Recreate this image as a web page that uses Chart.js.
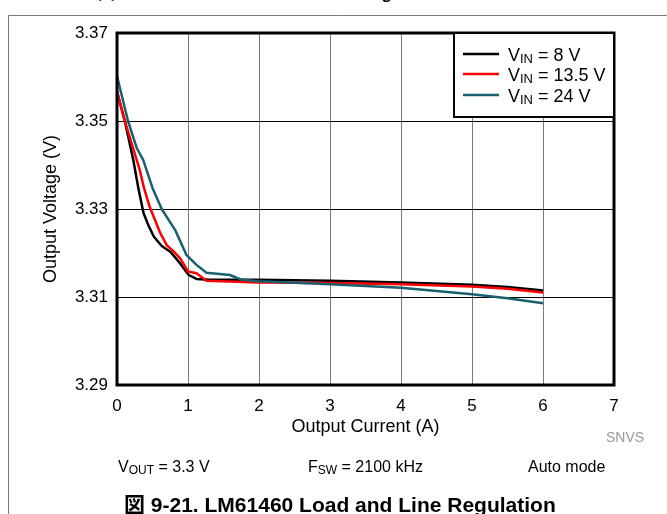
<!DOCTYPE html>
<html>
<head>
<meta charset="utf-8">
<script src="https://cdn.jsdelivr.net/npm/chart.js@4.4.1/dist/chart.umd.min.js"></script>
<style>
  body { margin: 0; background: #fff; }
  canvas { display: block; }
</style>
</head>
<body>
<canvas id="regulation" width="667" height="514"></canvas>
<script>
const FONT = "'Liberation Sans', Arial, 'Noto Sans CJK JP', sans-serif";

// Output current (A) / output voltage (V)
const vin8Current = [0, 0.11, 0.23, 0.3, 0.375, 0.445, 0.52, 0.63, 0.75, 0.87, 1.01, 1.12, 1.3, 2, 3, 4, 5, 5.5, 6];
const vin8Voltage = [3.3567, 3.35, 3.3411, 3.3348, 3.329, 3.3262, 3.3237, 3.3216, 3.3203, 3.318, 3.315, 3.3141, 3.3139, 3.3139, 3.3137, 3.3133, 3.3128, 3.3123, 3.3115];

const vin13Current = [0, 0.11, 0.32, 0.38, 0.46, 0.61, 0.7, 0.8, 0.89, 1.0, 1.12, 1.26, 2, 3, 4, 5, 5.5, 6];
const vin13Voltage = [3.3567, 3.35, 3.3389, 3.3348, 3.3305, 3.3245, 3.3218, 3.3203, 3.3188, 3.3158, 3.3154, 3.3137, 3.3133, 3.3132, 3.3129, 3.3124, 3.3119, 3.311];

const vin24Current = [0, 0.155, 0.28, 0.37, 0.5, 0.63, 0.7, 0.82, 0.98, 1.12, 1.26, 1.59, 1.76, 2, 3, 4, 5, 5.5, 6];
const vin24Voltage = [3.3602, 3.35, 3.3438, 3.3411, 3.3348, 3.33, 3.3282, 3.3252, 3.3195, 3.3173, 3.3155, 3.315, 3.3139, 3.3136, 3.3129, 3.3121, 3.3106, 3.3097, 3.3086];

const seriesNames = ["8 V", "13.5 V", "24 V"];
const seriesColors = ["#000000", "#ff0000", "#1a5f6e"];

const xMin = 0, xMax = 7, xStep = 1;
const yMin = 3.29, yMax = 3.37, yStep = 0.02;

function toPoints(xs, ys) {
  return xs.map((x, i) => ({ x: x, y: ys[i] }));
}

// draws "main" + subscript + rest, returns end x
function subText(ctx, x, y, main, sub, rest, size, subSize) {
  ctx.font = size + "px " + FONT;
  ctx.fillText(main, x, y);
  x += ctx.measureText(main).width;
  ctx.font = subSize + "px " + FONT;
  ctx.fillText(sub, x, y + size * 0.15);
  x += ctx.measureText(sub).width;
  ctx.font = size + "px " + FONT;
  ctx.fillText(rest, x, y);
  return x + ctx.measureText(rest).width;
}

const decorations = {
  id: "decorations",
  afterDraw(chart) {
    const ctx = chart.ctx;
    const area = chart.chartArea;
    ctx.save();

    // page frame
    ctx.strokeStyle = "#7a7a7a";
    ctx.lineWidth = 1;
    ctx.beginPath();
    ctx.moveTo(8.5, 514);
    ctx.lineTo(8.5, 15.5);
    ctx.lineTo(667, 15.5);
    ctx.stroke();

    // previous caption, cut off at the top
    ctx.fillStyle = "#000";
    ctx.textAlign = "left";
    ctx.textBaseline = "alphabetic";
    ctx.font = "bold 17px " + FONT;
    ctx.fillText("図 9-20. LM61460 Load and Line Regulation", 98, -1);

    // plot frame
    ctx.strokeStyle = "#000";
    ctx.lineWidth = 3;
    ctx.strokeRect(area.left, area.top, area.right - area.left, area.bottom - area.top);

    // legend
    const lx = 454, ly = area.top, lw = area.right - lx, lh = 84;
    ctx.fillStyle = "#fff";
    ctx.fillRect(lx, ly, lw, lh);
    ctx.lineWidth = 2;
    ctx.strokeRect(lx, ly, lw, lh);
    const rows = [54, 74, 95];
    chart.data.datasets.forEach((ds, i) => {
      ctx.strokeStyle = ds.borderColor;
      ctx.lineWidth = 2.5;
      ctx.beginPath();
      ctx.moveTo(463, rows[i]);
      ctx.lineTo(499, rows[i]);
      ctx.stroke();
      ctx.fillStyle = "#000";
      subText(ctx, 508, rows[i] + 6.5, "V", "IN", " = " + seriesNames[i], 18, 13);
    });

    // conditions
    ctx.fillStyle = "#000";
    subText(ctx, 118, 472, "V", "OUT", " = 3.3 V", 16, 12);
    subText(ctx, 308, 472, "F", "SW", " = 2100 kHz", 16, 12);
    ctx.font = "16px " + FONT;
    ctx.fillText("Auto mode", 528, 472);

    ctx.fillStyle = "#999";
    ctx.font = "14px " + FONT;
    ctx.fillText("SNVS", 606, 442);

    // caption
    ctx.fillStyle = "#000";
    ctx.font = "bold 21px " + FONT;
    ctx.fillText("図 9-21. LM61460 Load and Line Regulation", 124, 512);

    ctx.restore();
  }
};

new Chart(document.getElementById("regulation"), {
  type: "line",
  data: {
    datasets: [
      { label: "VIN = " + seriesNames[0], data: toPoints(vin8Current, vin8Voltage), borderColor: seriesColors[0], order: 2 },
      { label: "VIN = " + seriesNames[1], data: toPoints(vin13Current, vin13Voltage), borderColor: seriesColors[1], order: 1 },
      { label: "VIN = " + seriesNames[2], data: toPoints(vin24Current, vin24Voltage), borderColor: seriesColors[2], order: 0 },
    ],
  },
  options: {
    responsive: false,
    animation: false,
    devicePixelRatio: 1,
    elements: {
      point: { radius: 0 },
      line: { borderWidth: 2.5, tension: 0, fill: false, borderJoinStyle: "round" },
    },
    layout: { padding: { left: 40, right: 53, top: 33, bottom: 76 } },
    plugins: {
      legend: { display: false },
      tooltip: { enabled: false },
    },
    scales: {
      x: {
        type: "linear",
        min: xMin,
        max: xMax,
        ticks: { stepSize: xStep, color: "#000", padding: 11, font: { family: FONT, size: 17 } },
        grid: { color: "#7a7a7a", lineWidth: 1, drawTicks: false },
        border: { display: false },
        title: { display: true, text: "Output Current (A)", color: "#000", padding: 0, font: { family: FONT, size: 18 } },
        afterFit(scale) { scale.height = 53; },
      },
      y: {
        type: "linear",
        min: yMin,
        max: yMax,
        ticks: {
          stepSize: yStep,
          color: "#000",
          padding: 9,
          font: { family: FONT, size: 17 },
          callback: (v) => v.toFixed(2),
        },
        grid: { color: "#000", lineWidth: 1, drawTicks: false },
        border: { display: false },
        title: { display: true, text: "Output Voltage (V)", color: "#000", padding: 0, font: { family: FONT, size: 18 } },
        afterFit(scale) { scale.width = 77; },
      },
    },
  },
  plugins: [decorations],
});
</script>
</body>
</html>
